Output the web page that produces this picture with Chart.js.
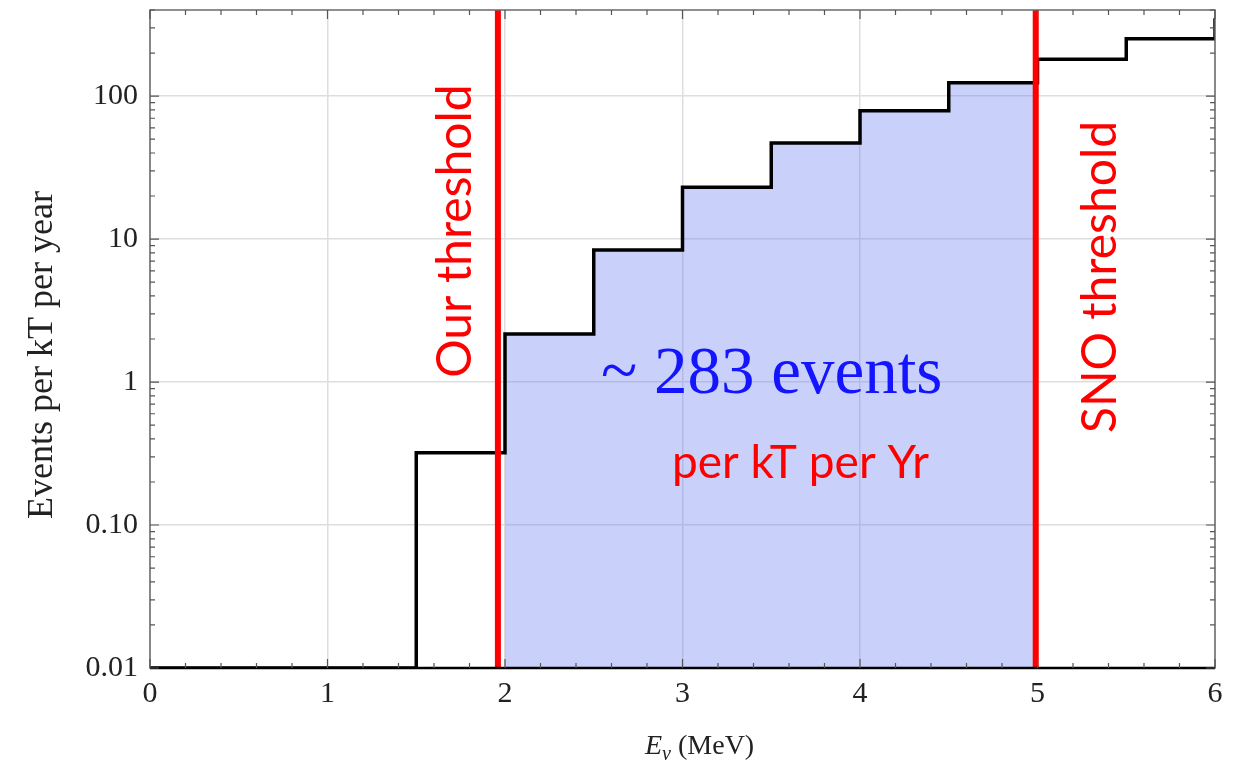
<!DOCTYPE html>
<html>
<head>
<meta charset="utf-8">
<script src="https://cdn.jsdelivr.net/npm/chart.js@4.4.1/dist/chart.umd.min.js"></script>
<style>
  html, body { margin: 0; padding: 0; background: #fff; }
  #wrap { width: 1243px; height: 763px; }
</style>
</head>
<body>
<div id="wrap"><canvas id="chart" width="1243" height="763"></canvas></div>
<script>
// histogram bins (left edges) and events per kT per year
const binEdges = [0, 1.5, 2, 2.5, 3, 3.5, 4, 4.5, 5, 5.5, 6];
const binValues = [0.01, 0.32, 2.17, 8.4, 23, 47, 79, 124, 181, 252, 350];

// shaded window between the two thresholds
const fillFrom = 2;
const fillTo = 5;

const ourThreshold = 1.96;
const snoThreshold = 4.99;

const xTicks = [0, 1, 2, 3, 4, 5, 6];
const yTicks = [0.01, 0.1, 1, 10, 100];
const yTickLabels = ['0.01', '0.10', '1', '10', '100'];

const yMin = 0.01, yMax = 400;

const histPoints = binEdges.map((x, i) => ({ x: x, y: binValues[i] }));

const fillPoints = [];
binEdges.forEach((x, i) => {
    if (x >= fillFrom && x < fillTo) fillPoints.push({ x: x, y: binValues[i] });
});
fillPoints.push({ x: fillTo, y: fillPoints[fillPoints.length - 1].y });

const serif = '"Liberation Serif", "Times New Roman", serif';
const sans = 'Lato, "Open Sans", sans-serif';

// inward ticks, frame, axis titles and labels
const decor = {
    id: 'decor',
    afterDraw(chart) {
        const ctx = chart.ctx;
        const a = chart.chartArea;
        const xs = chart.scales.x, ys = chart.scales.y;
        ctx.save();

        // frame
        ctx.strokeStyle = '#6a6a6a';
        ctx.lineWidth = 1.5;
        ctx.strokeRect(a.left, a.top, a.right - a.left, a.bottom - a.top);
        ctx.strokeStyle = '#000';
        ctx.lineWidth = 2.5;
        ctx.beginPath();
        ctx.moveTo(a.left, a.bottom); ctx.lineTo(a.right, a.bottom);
        ctx.stroke();

        // x ticks (top and bottom)
        ctx.strokeStyle = '#555';
        ctx.lineWidth = 1.2;
        for (let k = 0; k <= 30; k++) {
            const v = k * 0.2;
            const px = xs.getPixelForValue(v);
            const len = (k % 5 === 0) ? 9 : 5;
            ctx.beginPath();
            ctx.moveTo(px, a.bottom); ctx.lineTo(px, a.bottom - len);
            ctx.moveTo(px, a.top); ctx.lineTo(px, a.top + len);
            ctx.stroke();
        }
        // y ticks (left and right)
        for (let d = -2; d <= 2; d++) {
            for (let m = 1; m <= 9; m++) {
                const v = m * Math.pow(10, d);
                if (v > yMax) continue;
                const py = ys.getPixelForValue(v);
                const len = (m === 1) ? 9 : 5;
                ctx.beginPath();
                ctx.moveTo(a.left, py); ctx.lineTo(a.left + len, py);
                ctx.moveTo(a.right, py); ctx.lineTo(a.right - len, py);
                ctx.stroke();
            }
        }

        // axis titles
        ctx.fillStyle = '#222';
        ctx.save();
        ctx.translate(52, 355);
        ctx.rotate(-Math.PI / 2);
        ctx.font = '36px ' + serif;
        ctx.textAlign = 'center';
        ctx.textBaseline = 'alphabetic';
        ctx.fillText('Events per kT per year', 0, 0);
        ctx.restore();

        ctx.textBaseline = 'alphabetic';
        ctx.textAlign = 'left';
        let tx = 645;
        const ty = 754;
        ctx.font = 'italic 28px ' + serif;
        ctx.fillText('E', tx, ty);
        tx += ctx.measureText('E').width;
        ctx.font = 'italic 20px ' + serif;
        ctx.fillText('ν', tx, ty + 6);
        tx += ctx.measureText('ν').width;
        ctx.font = '28px ' + serif;
        ctx.fillText(' (MeV)', tx, ty);

        // threshold labels
        ctx.fillStyle = '#ff0000';
        ctx.font = '48px ' + sans;
        ctx.textAlign = 'center';
        ctx.save();
        ctx.translate(471, 231);
        ctx.rotate(-Math.PI / 2);
        ctx.fillText('Our threshold', 0, 0);
        ctx.restore();
        ctx.save();
        ctx.translate(1116, 277);
        ctx.rotate(-Math.PI / 2);
        ctx.fillText('SNO threshold', 0, 0);
        ctx.restore();

        // event count
        ctx.fillStyle = '#1414ff';
        ctx.font = '67px ' + serif;
        ctx.textAlign = 'left';
        ctx.fillText('~ 283 events', 601, 393);
        ctx.fillStyle = '#ff0000';
        ctx.font = '46px ' + sans;
        ctx.fillText('per kT per Yr', 672, 478);

        ctx.restore();
    }
};

const ctx = document.getElementById('chart').getContext('2d');

const chart = new Chart(ctx, {
    type: 'scatter',
    data: {
        datasets: [
            {
                // our threshold line
                data: [{ x: ourThreshold, y: yMin }, { x: ourThreshold, y: yMax }],
                showLine: true,
                borderColor: '#ff0000',
                borderWidth: 6,
                pointRadius: 0
            },
            {
                data: [{ x: snoThreshold, y: yMin }, { x: snoThreshold, y: yMax }],
                showLine: true,
                borderColor: '#ff0000',
                borderWidth: 6,
                pointRadius: 0
            },
            {
                // histogram outline
                data: histPoints,
                showLine: true,
                stepped: 'before',
                borderColor: '#000',
                borderWidth: 3.5,
                pointRadius: 0
            },
            {
                // shaded region
                data: fillPoints,
                showLine: true,
                stepped: 'before',
                borderWidth: 0,
                borderColor: 'rgba(0,0,0,0)',
                backgroundColor: 'rgba(100,120,240,0.35)',
                fill: 'start',
                pointRadius: 0
            }
        ]
    },
    options: {
        responsive: false,
        animation: false,
        layout: { padding: { left: 0, top: 10, right: 28, bottom: 0 } },
        plugins: {
            legend: { display: false },
            tooltip: { enabled: false }
        },
        scales: {
            x: {
                type: 'linear',
                min: 0,
                max: 6,
                afterBuildTicks: (scale) => { scale.ticks = xTicks.map(v => ({ value: v })); },
                afterFit: (scale) => { scale.height = 95; scale.paddingRight = 0; scale.paddingLeft = 0; },
                ticks: {
                    color: '#222',
                    padding: 8,
                    font: { family: serif, size: 30 },
                    maxRotation: 0
                },
                grid: { color: '#dedede', lineWidth: 1.5, drawTicks: false },
                border: { display: false }
            },
            y: {
                type: 'logarithmic',
                min: yMin,
                max: yMax,
                afterBuildTicks: (scale) => { scale.ticks = yTicks.map(v => ({ value: v })); },
                afterFit: (scale) => { scale.width = 150; scale.paddingTop = 0; scale.paddingBottom = 0; },
                ticks: {
                    color: '#222',
                    padding: 12,
                    font: { family: serif, size: 30 },
                    callback: (v) => {
                        const i = yTicks.indexOf(v);
                        return i >= 0 ? yTickLabels[i] : '';
                    }
                },
                grid: { color: '#dedede', lineWidth: 1.5, drawTicks: false },
                border: { display: false }
            }
        }
    },
    plugins: [decor]
});
</script>
</body>
</html>
